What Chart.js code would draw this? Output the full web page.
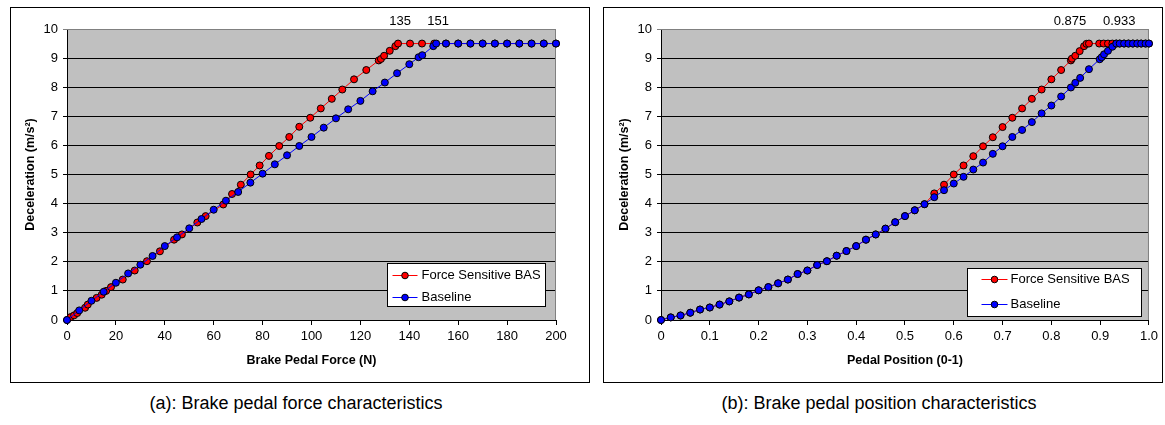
<!DOCTYPE html>
<html>
<head>
<meta charset="utf-8">
<script src="https://cdn.jsdelivr.net/npm/chart.js@4.4.1/dist/chart.umd.min.js"></script>
<style>
  body { margin: 0; background: #fff; font-family: "Liberation Sans", Arial, sans-serif; }
  .frame { position: absolute; top: 7px; border: 1px solid #000; }
  .frame canvas { display: block; }
  .caption { position: absolute; top: 393px; width: 440px; font-size: 18px; color: #000; text-align: center; }
</style>
</head>
<body>
<div class="frame" style="left:10px;width:578px;height:374px"><canvas id="forceChart" width="578" height="374"></canvas></div>
<div class="frame" style="left:603px;width:558px;height:374px"><canvas id="posChart" width="558" height="374"></canvas></div>
<div class="caption" style="left:76px">(a): Brake pedal force characteristics</div>
<div class="caption" style="left:659px">(b): Brake pedal position characteristics</div>
<script>
const FONT = '"Liberation Sans", Arial, sans-serif';
const seriesNames = ['Force Sensitive BAS', 'Baseline'];

// (a) pedal force -> deceleration
const forceBasX = [0, 1.5, 2.9, 4.2, 7.4, 8.5, 12.1, 14.2, 16, 18, 22.8, 27.7, 32.7, 38, 43.8, 47, 53.3, 56.7, 63.9, 67.5,
  71.1, 75.1, 78.8, 82.6, 86.8, 90.9, 95, 99.5, 103.8, 108.3, 112.6, 117.4, 122.4, 127.5, 128.4, 129.7, 132, 134.3, 135.4,
  140.3, 145.2, 150.2, 155, 160, 165, 170, 175, 180, 185, 190, 195, 200];
const forceBasY = [0, 0.1, 0.16, 0.24, 0.42, 0.53, 0.76, 0.87, 1.0, 1.13, 1.39, 1.7, 2.02, 2.36, 2.76, 2.94, 3.35, 3.57, 3.97, 4.33,
  4.65, 5.0, 5.31, 5.64, 5.98, 6.29, 6.64, 6.95, 7.27, 7.6, 7.92, 8.27, 8.59, 8.92, 8.97, 9.08, 9.25, 9.41, 9.5,
  9.5, 9.5, 9.5, 9.5, 9.5, 9.5, 9.5, 9.5, 9.5, 9.5, 9.5, 9.5, 9.5];
const forceBaseX = [0, 5, 10, 15, 20, 25, 30, 35, 40, 45, 50, 55, 60, 65, 70, 75, 80, 85, 90, 95, 100, 105, 110, 115, 120,
  125, 130, 135, 140, 143.8, 145.3, 149.8, 151, 155, 160, 165, 170, 175, 180, 185, 190, 195, 200];
const forceBaseY = [0, 0.33, 0.66, 0.97, 1.28, 1.6, 1.9, 2.2, 2.54, 2.84, 3.15, 3.47, 3.79, 4.1, 4.4, 4.72, 5.03, 5.35, 5.66, 5.98,
  6.29, 6.61, 6.93, 7.24, 7.53, 7.86, 8.16, 8.48, 8.79, 9.03, 9.1, 9.41, 9.5, 9.5, 9.5, 9.5, 9.5, 9.5, 9.5, 9.5, 9.5, 9.5, 9.5];
const forceMarks = [135, 151];

// (b) pedal position -> deceleration
const posBasX = [0, 0.02, 0.04, 0.06, 0.08, 0.1, 0.12, 0.14, 0.16, 0.18, 0.2, 0.22, 0.24, 0.26, 0.28, 0.3, 0.32, 0.34, 0.36,
  0.38, 0.4, 0.42, 0.44, 0.46, 0.48, 0.5, 0.52, 0.54, 0.56, 0.58, 0.6, 0.62, 0.64, 0.66, 0.68, 0.7, 0.72, 0.74, 0.76, 0.78,
  0.8, 0.82, 0.84, 0.842, 0.849, 0.858, 0.867, 0.872, 0.877, 0.898, 0.907, 0.916, 0.925, 0.933, 0.94, 0.949, 0.958, 0.967,
  0.976, 0.984, 0.993, 1.0];
const posBasY = [0, 0.09, 0.155, 0.25, 0.36, 0.43, 0.53, 0.64, 0.77, 0.88, 1.02, 1.13, 1.26, 1.39, 1.58, 1.7, 1.89, 2.02, 2.21,
  2.37, 2.54, 2.76, 2.94, 3.14, 3.36, 3.57, 3.77, 3.98, 4.35, 4.65, 5.0, 5.31, 5.63, 5.97, 6.28, 6.63, 6.95, 7.27, 7.6, 7.92,
  8.27, 8.59, 8.92, 8.98, 9.08, 9.24, 9.41, 9.49, 9.5, 9.5, 9.5, 9.5, 9.5, 9.5, 9.5, 9.5, 9.5, 9.5,
  9.5, 9.5, 9.5, 9.5];
const posBaseX = [0, 0.02, 0.04, 0.06, 0.08, 0.1, 0.12, 0.14, 0.16, 0.18, 0.2, 0.22, 0.24, 0.26, 0.28, 0.3, 0.32, 0.34, 0.36,
  0.38, 0.4, 0.42, 0.44, 0.46, 0.48, 0.5, 0.52, 0.54, 0.56, 0.58, 0.6, 0.62, 0.64, 0.66, 0.68, 0.7, 0.72, 0.74, 0.76, 0.78,
  0.8, 0.82, 0.84, 0.849, 0.859, 0.877, 0.899, 0.903, 0.908, 0.916, 0.925, 0.933, 0.94, 0.949, 0.958, 0.967, 0.976, 0.984,
  0.993, 1.0];
const posBaseY = [0, 0.09, 0.155, 0.25, 0.36, 0.43, 0.53, 0.64, 0.77, 0.88, 1.02, 1.13, 1.26, 1.39, 1.58, 1.7, 1.89, 2.02, 2.21,
  2.37, 2.54, 2.76, 2.94, 3.14, 3.36, 3.57, 3.77, 3.98, 4.22, 4.46, 4.69, 4.92, 5.17, 5.41, 5.71, 5.97, 6.29, 6.53, 6.8, 7.1,
  7.37, 7.68, 7.99, 8.15, 8.32, 8.62, 8.96, 9.03, 9.13, 9.25, 9.39, 9.5, 9.5, 9.5, 9.5, 9.5, 9.5, 9.5,
  9.5, 9.5];
const posMarks = [0.875, 0.933];

const COLORS = { bas: '#FF0000', base: '#0000FF' };

function points(xs, ys) {
  return xs.map((x, i) => ({ x: x, y: ys[i] }));
}

// grey plot area + grey top/right frame
const plotFrame = {
  id: 'plotFrame',
  beforeDraw(chart) {
    const { ctx, chartArea: a } = chart;
    ctx.save();
    ctx.fillStyle = '#C0C0C0';
    ctx.fillRect(a.left, a.top, a.width, a.height);
    ctx.restore();
  },
  beforeDatasetsDraw(chart) {
    const { ctx, chartArea: a } = chart;
    ctx.save();
    ctx.strokeStyle = '#808080';
    ctx.lineWidth = 1;
    ctx.beginPath();
    ctx.moveTo(a.left, a.top + 0.5);
    ctx.lineTo(a.right - 0.5, a.top + 0.5);
    ctx.lineTo(a.right - 0.5, a.bottom);
    ctx.stroke();
    ctx.restore();
  }
};

// boxed legend inside the plot, bottom right
const boxLegend = {
  id: 'boxLegend',
  afterDraw(chart, args, opts) {
    const { ctx, chartArea: a } = chart;
    const x0 = Math.round(a.right - opts.right - opts.width) + 0.5;
    const y0 = Math.round(a.bottom - opts.bottom - opts.height) + 0.5;
    ctx.save();
    ctx.fillStyle = '#fff';
    ctx.fillRect(x0, y0, opts.width, opts.height);
    ctx.strokeStyle = '#000';
    ctx.lineWidth = 1;
    ctx.strokeRect(x0, y0, opts.width, opts.height);
    chart.data.datasets.forEach((ds, i) => {
      const y = y0 + opts.rows[i];
      ctx.strokeStyle = ds.borderColor;
      ctx.beginPath();
      ctx.moveTo(x0 + opts.line[0], y);
      ctx.lineTo(x0 + opts.line[1], y);
      ctx.stroke();
      ctx.beginPath();
      ctx.arc(x0 + (opts.line[0] + opts.line[1]) / 2, y, 3.3, 0, Math.PI * 2);
      ctx.fillStyle = ds.pointBackgroundColor;
      ctx.fill();
      ctx.strokeStyle = '#000';
      ctx.stroke();
      ctx.fillStyle = '#000';
      ctx.font = '13px ' + FONT;
      ctx.textBaseline = 'middle';
      ctx.textAlign = 'left';
      ctx.fillText(ds.label, x0 + opts.text, y);
    });
    ctx.restore();
  }
};

// values written above the plateau corners
const cornerLabels = {
  id: 'cornerLabels',
  afterDraw(chart, args, opts) {
    const { ctx, chartArea: a } = chart;
    const xs = chart.scales.x;
    ctx.save();
    ctx.fillStyle = '#000';
    ctx.font = '13px ' + FONT;
    ctx.textAlign = 'center';
    ctx.textBaseline = 'middle';
    opts.values.forEach((v, i) => {
      ctx.fillText(String(v), xs.getPixelForValue(v) + opts.dx[i], a.top - 8);
    });
    ctx.restore();
  }
};

function makeChart(id, cfg) {
  const dsStyle = {
    showLine: true,
    borderWidth: 1,
    pointRadius: 3.5,
    pointHoverRadius: 3.5,
    pointBorderColor: '#000',
    pointBorderWidth: 1,
    clip: false
  };
  return new Chart(document.getElementById(id), {
    type: 'scatter',
    data: {
      datasets: [
        Object.assign({
          label: seriesNames[0],
          data: points(cfg.basX, cfg.basY),
          borderColor: COLORS.bas,
          backgroundColor: COLORS.bas,
          pointBackgroundColor: COLORS.bas,
          order: 2
        }, dsStyle),
        Object.assign({
          label: seriesNames[1],
          data: points(cfg.baseX, cfg.baseY),
          borderColor: COLORS.base,
          backgroundColor: COLORS.base,
          pointBackgroundColor: COLORS.base,
          order: 1
        }, dsStyle)
      ]
    },
    options: {
      responsive: false,
      animation: false,
      devicePixelRatio: 1,
      layout: { padding: { top: 21, right: cfg.padRight, left: 0, bottom: 0 } },
      plugins: {
        legend: { display: false },
        tooltip: { enabled: false },
        boxLegend: cfg.legend,
        cornerLabels: { values: cfg.marks, dx: cfg.marksDx }
      },
      scales: {
        x: {
          type: 'linear',
          min: 0,
          max: cfg.xMax,
          ticks: { stepSize: cfg.xStep, color: '#000', font: { family: FONT, size: 13 }, padding: 4, maxRotation: 0, autoSkip: false },
          grid: { drawOnChartArea: false, drawTicks: true, tickLength: 5, color: '#000' },
          border: { color: '#000', width: 1 },
          title: {
            display: true,
            text: cfg.xTitle,
            color: '#000',
            font: { family: FONT, size: 12.5, weight: 'bold' },
            padding: { top: 13.5, bottom: 13.5 }
          },
          afterFit(s) { s.height = 62; }
        },
        y: {
          min: 0,
          max: 10,
          ticks: { stepSize: 1, color: '#000', font: { family: FONT, size: 13 }, padding: 5 },
          grid: {
            color: (c) => (c.tick && c.tick.value === 10 ? '#808080' : '#000'),
            tickLength: 4
          },
          border: { color: '#000', width: 1 },
          title: {
            display: true,
            text: 'Deceleration (m/s²)',
            color: '#000',
            font: { family: FONT, size: 12.5, weight: 'bold' },
            padding: { top: cfg.yTitlePad, bottom: cfg.yTitlePad }
          },
          afterFit(s) { s.width = cfg.yWidth; }
        }
      }
    },
    plugins: [plotFrame, boxLegend, cornerLabels]
  });
}

makeChart('forceChart', {
  basX: forceBasX, basY: forceBasY, baseX: forceBaseX, baseY: forceBaseY,
  marks: forceMarks, marksDx: [3, 2],
  xMax: 200, xStep: 20, xTitle: 'Brake Pedal Force (N)',
  yWidth: 56, yTitlePad: 12, padRight: 33,
  legend: { right: 11, bottom: 14, width: 158, height: 43, rows: [12, 34], line: [5, 30], text: 34 }
});

makeChart('posChart', {
  basX: posBasX, basY: posBasY, baseX: posBaseX, baseY: posBaseY,
  marks: posMarks, marksDx: [-18, 3],
  xMax: 1, xStep: 0.1, xTitle: 'Pedal Position (0-1)',
  yWidth: 57, yTitlePad: 13, padRight: 10,
  legend: { right: 8, bottom: 4, width: 174, height: 48, rows: [11, 36], line: [14, 40], text: 43 }
});
</script>
</body>
</html>
